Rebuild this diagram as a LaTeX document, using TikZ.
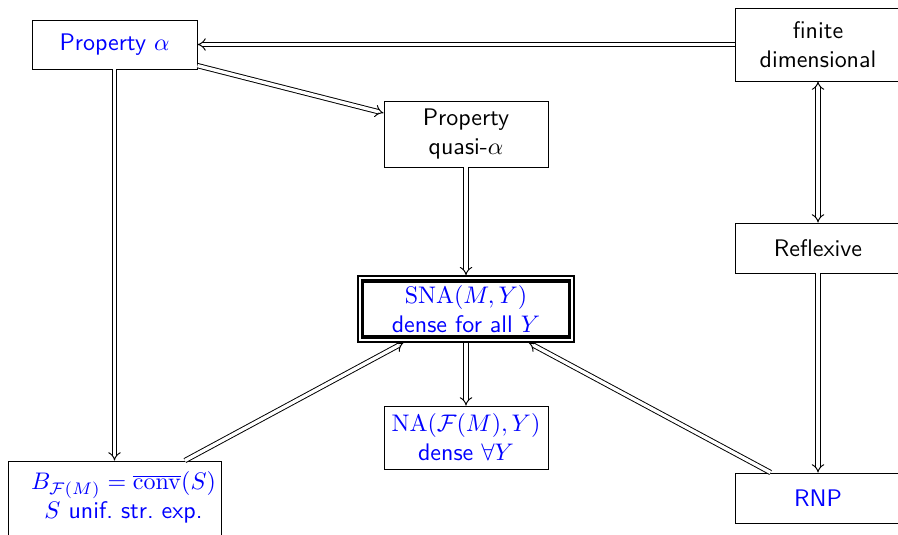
\documentclass[tikz,border=0pt]{standalone}
\usetikzlibrary{arrows.meta}
\begin{document}
\begin{tikzpicture}[x=0.417pt,y=-0.417pt,
  box/.style={draw, font=\sffamily, align=center, inner sep=0pt},
  sz/.style 2 args={minimum width=#1*0.417pt, minimum height=#2*0.417pt},
  blu/.style={text=blue},
  imp/.style={double, double distance=1.4pt, -{Implies}},
  inframe/.style={line width=1.3pt, outer sep=2.4pt},
  outframe/.style={line width=0.8pt}
]
\clip (0,0) rectangle (898,534);
\useasboundingbox (0,0) rectangle (898,534);

% nodes
\node[box, blu, sz={165}{49}] (propA) at (114.5,44.5) {Property $\alpha$};
\node[box, sz={166}{73}] (fin) at (818,44.5) {finite\\dimensional};
\node[box, sz={164}{66}] (quasi) at (466,134) {Property\\quasi-$\alpha$};
\node[box, blu, inframe, sz={207}{56}] (sna) at (466,309)
  {$\mathrm{SNA}(M,Y)$\\dense for all $Y$};
% outer contour of the framed node (its anchors lie 2.4pt outside the thick border)
\draw[outframe] ([shift={(0.4pt,-0.4pt)}]sna.north west) rectangle ([shift={(-0.4pt,0.4pt)}]sna.south east);
\node[box, blu, sz={164}{63}] (na) at (466,437.5)
  {$\mathrm{NA}(\mathcal{F}(M),Y)$\\dense $\forall Y$};
\node[box, blu, sz={213}{75}] (b) at (114.5,498.5)
  {\hspace*{7.5pt}\begin{tabular}{@{}c@{}}$B_{\mathcal{F}(M)}=\overline{\mathrm{conv}}(S)$\\$S$ unif.\ str.\ exp.\end{tabular}};
\node[box, sz={166}{50}] (refl) at (818,248) {Reflexive};
\node[box, blu, sz={166}{50}] (rnp) at (818,498) {RNP};

% implications
\draw[imp] (fin) -- (propA);
\draw[imp] (propA) -- (quasi);
\draw[imp] (propA) -- (b);
\draw[imp] (quasi) -- (sna);
\draw[imp] (b) -- (sna);
\draw[imp] (sna) -- (na);
\draw[imp] (rnp) -- (sna);
\draw[imp, {Implies}-{Implies}] (fin) -- (refl);
\draw[imp] (refl) -- (rnp);
\end{tikzpicture}
\end{document}
